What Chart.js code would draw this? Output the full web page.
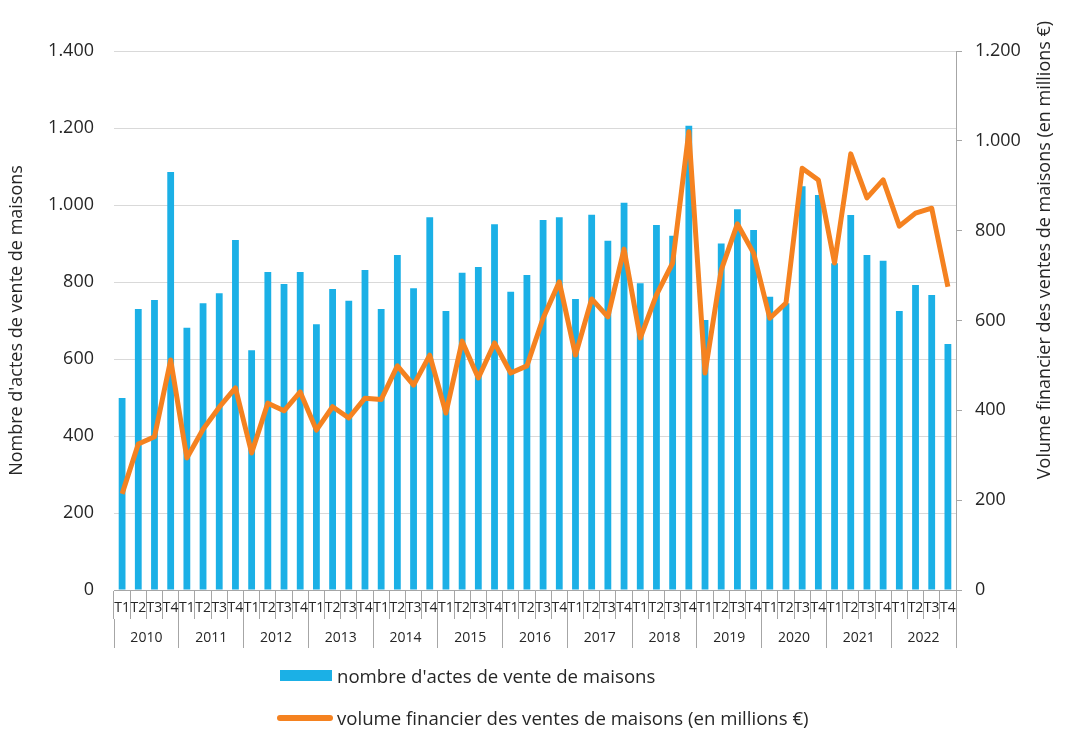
<!DOCTYPE html>
<html lang="fr">
<head>
<meta charset="utf-8">
<title>Ventes de maisons</title>
<script src="https://cdn.jsdelivr.net/npm/chart.js@4/dist/chart.umd.min.js"></script>
<style>
  html, body { margin: 0; padding: 0; background: #fff; }
  #wrap { position: relative; width: 1066px; height: 729px; font-family: "Open Sans", sans-serif; color: #262626; }
  #chart { position: absolute; left: 0; top: 0; }
  .leg { position: absolute; left: 277px; display: flex; align-items: center; font-size: 18.6px; white-space: nowrap; }
  #leg1 { top: 663px; }
  #leg1 .sw { height: 11px; background: #1BB0E6; margin-left: 3px; width: 52px; margin-right: 5px; }
  #leg2 { top: 705px; }
  #leg2 .sw { height: 6px; border-radius: 3px; background: #F58220; width: 56px; margin-right: 4px; }
</style>
</head>
<body>
<div id="wrap">
  <canvas id="chart" width="1066" height="729"></canvas>
  <div class="leg" id="leg1"><span class="sw"></span><span>nombre d'actes de vente de maisons</span></div>
  <div class="leg" id="leg2"><span class="sw"></span><span>volume financier des ventes de maisons (en millions €)</span></div>
</div>
<script>
(function () {
  const years = ["2010", "2011", "2012", "2013", "2014", "2015", "2016",
                 "2017", "2018", "2019", "2020", "2021", "2022"];
  const quarters = ["T1", "T2", "T3", "T4"];

  // nombre d'actes (axe gauche)
  const actes = [
    499, 730, 753, 1086,
    681, 745, 771, 909,
    623, 826, 795, 826,
    690, 782, 751, 831,
    730, 870, 784, 968,
    725, 824, 839, 950,
    775, 818, 961, 968,
    756, 975, 907, 1006,
    797, 948, 920, 1206,
    701, 900, 989, 935,
    762, 745, 1049, 1026,
    849, 974, 870, 855,
    725, 792, 766, 639
  ];

  // volume financier en millions € (axe droit)
  const volume = [
    214, 325, 341, 512,
    294, 358, 407, 450,
    305, 416, 399, 441,
    356, 408, 383, 427,
    424, 499, 456, 523,
    394, 554, 472, 550,
    483, 499, 605, 686,
    523, 648, 608, 759,
    561, 657, 728, 1020,
    483, 712, 815, 750,
    605, 639, 939, 913,
    728, 971, 873, 913,
    810, 839, 850, 675
  ];

  const labels = [];
  for (const y of years) {
    for (const q of quarters) labels.push(q);
  }

  const AXIS = "#A6A6A6";
  const GRID = "#D9D9D9";
  const TXT = "#262626";
  const FONT = "'Open Sans', sans-serif";

  function frNumber(v) {
    // 1400 -> 1.400
    return String(v).replace(/\B(?=(\d{3})+(?!\d))/g, ".");
  }

  // titre de l'axe droit, lu de bas en haut
  const rightTitle = {
    id: "rightTitle",
    afterDraw(chart) {
      const ctx = chart.ctx;
      ctx.save();
      ctx.translate(1045, 250);
      ctx.rotate(-Math.PI / 2);
      ctx.font = "18px " + FONT;
      ctx.fillStyle = TXT;
      ctx.textAlign = "center";
      ctx.textBaseline = "middle";
      ctx.fillText("Volume financier des ventes de maisons (en millions €)", 0, 0);
      ctx.restore();
    }
  };

  const ctx = document.getElementById("chart").getContext("2d");
  new Chart(ctx, {
    type: "bar",
    data: {
      labels: labels,
      datasets: [
        {
          type: "line",
          label: "volume financier des ventes de maisons (en millions €)",
          data: volume,
          yAxisID: "y1",
          borderColor: "#F58220",
          backgroundColor: "#F58220",
          borderWidth: 5,
          pointRadius: 0,
          tension: 0,
          borderJoinStyle: "round",
          order: 0
        },
        {
          label: "nombre d'actes de vente de maisons",
          data: actes,
          yAxisID: "y",
          backgroundColor: "#1BB0E6",
          categoryPercentage: 1,
          barPercentage: 0.42,
          order: 1
        }
      ]
    },
    options: {
      responsive: false,
      animation: false,
      layout: { padding: { top: 51, left: 0, right: 0, bottom: 81 } },
      plugins: {
        legend: { display: false },
        tooltip: { enabled: false }
      },
      scales: {
        x: {
          weight: 0,
          grid: { offset: true, drawOnChartArea: false, drawTicks: true, tickLength: 29, color: AXIS, tickColor: AXIS },
          border: { display: true, color: AXIS },
          ticks: { font: { family: FONT, size: 14 }, color: TXT, padding: -19, maxRotation: 0, autoSkip: false },
          afterFit: (s) => { s.height = 29; }
        },
        x2: {
          type: "category",
          labels: years,
          position: "bottom",
          weight: 1,
          grid: { offset: true, drawOnChartArea: false, drawTicks: true, tickLength: 29, color: AXIS, tickColor: AXIS },
          border: { display: false },
          ticks: { font: { family: FONT, size: 14 }, color: TXT, padding: -18, maxRotation: 0, autoSkip: false },
          afterFit: (s) => { s.height = 29; }
        },
        y: {
          position: "left",
          min: 0,
          max: 1400,
          ticks: { stepSize: 200, padding: 20, font: { family: FONT, size: 18 }, color: TXT, callback: (v) => frNumber(v) },
          grid: { color: GRID, drawTicks: false },
          border: { display: false },
          title: {
            display: true,
            text: "Nombre d'actes de vente de maisons",
            font: { family: FONT, size: 18 },
            color: TXT,
            padding: { top: 6, bottom: 0 }
          },
          afterFit: (s) => { s.width = 114; }
        },
        y1: {
          position: "right",
          min: 0,
          max: 1200,
          ticks: { stepSize: 200, padding: 13, font: { family: FONT, size: 18 }, color: TXT, callback: (v) => frNumber(v) },
          grid: { drawOnChartArea: false, drawTicks: true, tickLength: 6, tickColor: AXIS },
          border: { display: true, color: AXIS },
          afterFit: (s) => { s.width = 110; }
        }
      }
    },
    plugins: [rightTitle]
  });
})();
</script>
</body>
</html>
